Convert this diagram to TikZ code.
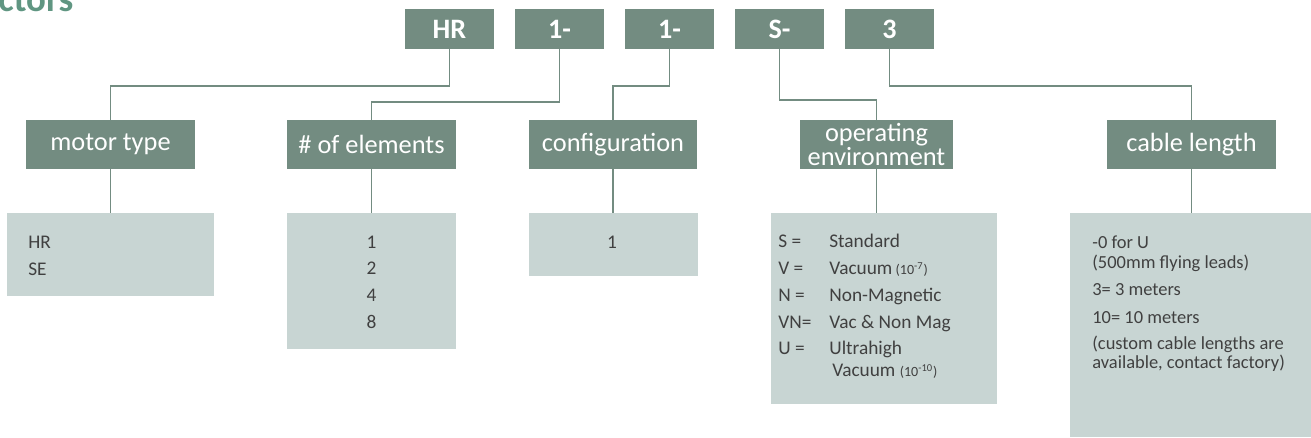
\documentclass[tikz,border=0pt]{standalone}
\usepackage{fontspec}
\setmainfont{Carlito}
\definecolor{codegreen}{RGB}{115,140,129}
\definecolor{valgrey}{RGB}{200,213,211}
\definecolor{txtgrey}{RGB}{64,64,64}
\definecolor{titlegreen}{RGB}{96,150,130}
\newcommand{\expnt}[1]{{\fontsize{8}{8}\selectfont(10\textsuperscript{#1})}}

\begin{document}
\begin{tikzpicture}[x=0.02cm, y=-0.02cm,
    codebox/.style={fill=codegreen, text=white, font=\fontsize{16}{16}\selectfont\bfseries,
        minimum width=1.78cm, minimum height=0.8cm, inner sep=0pt},
    labelbox/.style={fill=codegreen, text=white, font=\fontsize{15}{13.6}\selectfont,
        minimum width=3.38cm, minimum height=0.98cm, inner sep=0pt, align=center},
    valbox/.style={fill=valgrey, inner sep=0pt},
    valtext/.style={text=txtgrey, font=\fontsize{11}{13}\selectfont, inner sep=0pt},
    link/.style={draw=codegreen, line width=1.1pt}]
    \useasboundingbox (0,0) rectangle (1311,437);

    % Title (cut off at the top)
    \node[font=\fontsize{21}{21}\selectfont\bfseries, text=titlegreen, anchor=base west, inner sep=0pt] (title) at (-2,11) {ctors};

    % Part number
    \foreach \c [count=\i] in {HR,1-,1-,S-,3} {
        \pgfmathsetmacro{\xc}{449.5+110*(\i-1)}
        \node[codebox] (code\i) at (\xc,29) {\c};
    }

    % Field names
    \node[labelbox] (mtype) at (110.5,144.5) {motor type};
    \node[labelbox] (nelem) at (371.5,144.5) {\# of elements};
    \node[labelbox] (config) at (613,144.5) {configuration};
    \node[labelbox, minimum width=3.06cm] (openv) at (876.5,144.5) {operating\\environment};
    \node[labelbox] (cablen) at (1191.5,144.5) {cable length};

    % Value boxes
    \node[valbox, minimum width=4.14cm, minimum height=1.66cm] (vmtype) at (110.5,254.5) {};
    \node[valbox, minimum width=3.38cm, minimum height=2.72cm] (vnelem) at (371.5,281) {};
    \node[valbox, minimum width=3.38cm, minimum height=1.26cm] (vconfig) at (613.5,244.5) {};
    \node[valbox, minimum width=4.52cm, minimum height=3.82cm] (vopenv) at (884,308.5) {};
    \node[valbox, minimum width=4.82cm, minimum height=4.48cm] (vcablen) at (1190.5,325) {};

    % Connectors
    \draw[link] (code1.south) -- ++(0,37) -| (mtype.north);
    \draw[link] (code2.south) -- ++(0,53) -| (nelem.north);
    \draw[link] (code3.south) -- ++(0,37) -| (config.north);
    \draw[link] (code4.south) -- ++(0,51) -| (openv.north);
    \draw[link] (code5.south) -- ++(0,37) -| (cablen.north);
    \foreach \a/\b in {mtype/vmtype, nelem/vnelem, config/vconfig, openv/vopenv, cablen/vcablen}
        \draw[link] (\a.south) -- (\a.south |- \b.north);

    % Values
    \foreach \t [count=\i] in {HR,SE}
        \node[valtext, anchor=base west] (mt\i) at (28,248+27*\i-27) {\t};
    \foreach \t [count=\i] in {1,2,4,8}
        \node[valtext, anchor=base] (ne\i) at (371.5,248+26.7*\i-26.7) {\t};
    \node[valtext, anchor=base] (cf1) at (612,248) {1};
    \foreach \k/\v/\y [count=\i] in {S =/Standard/247, V =/{Vacuum\,\expnt{-7}}/274,
            N =/Non-Magnetic/301, VN=/{Vac \& Non Mag}/328, U =/Ultrahigh/354} {
        \node[valtext, anchor=base west] (ek\i) at (778,\y) {\k};
        \node[valtext, anchor=base west] (ev\i) at (829,\y) {\v};
    }
    \node[valtext, anchor=base west] (ev6) at (832,376) {Vacuum \expnt{-10}};
    \foreach \t/\y [count=\i] in {{-0 for U}/248, {(500mm flying leads)}/268, {3= 3 meters}/295,
            {10= 10 meters}/323, {(custom cable lengths are}/349, {available, contact factory)}/368}
        \node[valtext, font=\fontsize{10.5}{12}\selectfont, anchor=base west] (cl\i) at (1092,\y) {\t};
\end{tikzpicture}
\end{document}
